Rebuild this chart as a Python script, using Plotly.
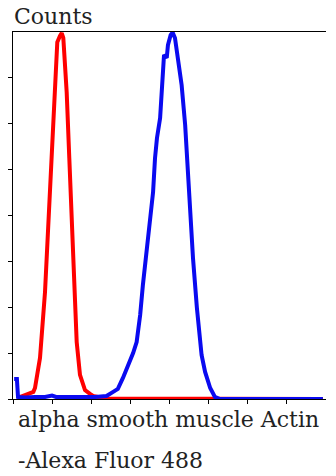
import plotly.graph_objects as go

# Isotype control (red)
red_x = [0.128, 0.179, 0.307, 0.435, 0.52, 0.562, 0.647, 0.69, 0.818, 0.902, 0.989, 1.03,
         1.099, 1.132, 1.2, 1.245, 1.286, 1.372, 1.439, 1.5, 1.559, 1.628, 1.712, 1.84,
         1.968, 2.045, 2.17, 2.27, 7.92]
red_y = [0, 0.9, 1.7, 2.6, 3.1, 4.8, 12.6, 17.9, 46.6, 75.9, 105, 119.5,
         148.7, 155.6, 158.3, 159.5, 157.4, 133.8, 105, 75.9, 46.6, 24.8, 10.5, 3.9,
         2.2, 1.3, 0.9, 0.2, 0]

# alpha smooth muscle Actin (blue)
blue_x = [0.03, 0.1, 0.128, 0.307, 0.56, 0.82, 0.997, 1.1, 1.33, 1.58, 1.84, 2.1, 2.22,
          2.39, 2.56, 2.68, 2.81, 2.94, 3.07, 3.16, 3.25, 3.32, 3.42, 3.5, 3.58, 3.63,
          3.68, 3.76, 3.81, 3.86, 3.93, 3.96, 4.03, 4.08, 4.14, 4.22, 4.31, 4.4, 4.45,
          4.52, 4.6, 4.7, 4.76, 4.82, 4.91, 5.04, 5.16, 5.29, 7.92]
blue_y = [8.7, 8.7, 0.9, 0.65, 0.9, 0.9, 1.5, 0.9, 0.9, 1.1, 0.9, 0.9, 0.9,
          1.3, 3.1, 4.4, 9.2, 14.4, 20, 24.8, 36.6, 49.7, 64.1, 75.9, 90.2, 105,
          113.8, 122.5, 133.8, 150, 148.7, 154.3, 158.7, 159.8, 157.4, 148.7, 136.9, 119.5, 105,
          83.3, 61.5, 39.7, 29.2, 19.2, 11.8, 4.8, 0.9, 0, 0]

x_ticks = [0, 1, 2, 3, 4, 5, 6, 7]
y_ticks = [0, 20, 40, 60, 80, 100, 120, 140]

y_title = "Counts"
x_title_1 = "alpha smooth muscle Actin"
x_title_2 = "-Alexa Fluor 488"

FONT = "DejaVu Serif"
TXT = "#222222"

fig = go.Figure()
fig.add_trace(go.Scatter(x=red_x, y=red_y, mode="lines",
                         line=dict(color="#ff0000", width=4), showlegend=False))
fig.add_trace(go.Scatter(x=blue_x, y=blue_y, mode="lines", fill="tozeroy",
                         fillcolor="rgba(0,0,0,0)",
                         line=dict(color="#0a0af0", width=4), showlegend=False))

fig.update_layout(
    width=336, height=476,
    margin=dict(l=13, r=10, t=32, b=77),
    paper_bgcolor="white", plot_bgcolor="white",
    xaxis=dict(range=[0, 8], tickvals=x_ticks, showticklabels=False,
               ticks="outside", ticklen=4, tickcolor="black", tickwidth=1,
               showline=True, linecolor="black", linewidth=1, mirror=True,
               showgrid=False, zeroline=False),
    yaxis=dict(range=[0, 160], tickvals=y_ticks, showticklabels=False,
               ticks="outside", ticklen=4, tickcolor="black", tickwidth=1,
               showline=True, linecolor="black", linewidth=1,
               showgrid=False, zeroline=False),
    annotations=[
        dict(text=y_title, xref="paper", yref="paper", x=-0.004, y=1.041,
             xanchor="left", yanchor="middle", showarrow=False,
             font=dict(family=FONT, size=22, color=TXT)),
        dict(text=x_title_1, xref="paper", yref="paper", x=0.009, y=-0.056,
             xanchor="left", yanchor="middle", showarrow=False,
             font=dict(family=FONT, size=22, color=TXT)),
        dict(text=x_title_2, xref="paper", yref="paper", x=0.009, y=-0.168,
             xanchor="left", yanchor="middle", showarrow=False,
             font=dict(family=FONT, size=22, color=TXT)),
    ],
)

fig.write_html("out.html")
